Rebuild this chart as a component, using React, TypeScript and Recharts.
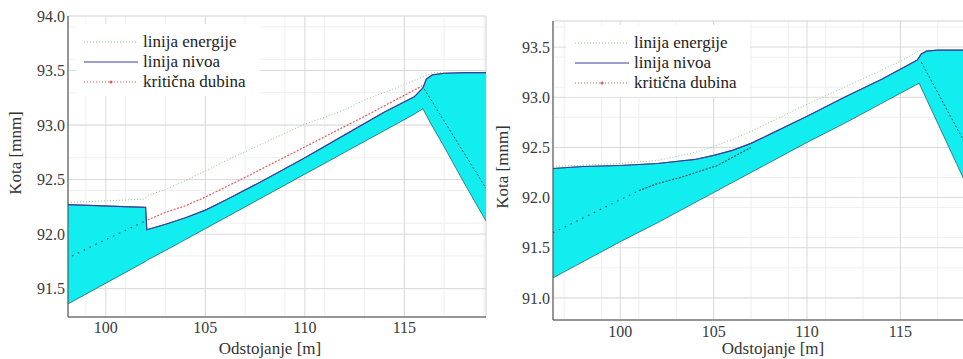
import { Area, CartesianGrid, ComposedChart, Label, Legend, Line, XAxis, YAxis } from "recharts";

// ---- left panel ----
const leftStationX = [98.1, 102.0, 102.06, 103, 104, 105, 106, 108, 110, 112, 114, 115.5, 115.93, 116.1, 116.4, 117, 118, 119.1];
const leftBedZ = [91.36, 91.75, 91.76, 91.85, 91.95, 92.05, 92.15, 92.35, 92.55, 92.75, 92.95, 93.1, 93.15, 93.09, 92.99, 92.8, 92.47, 92.12];
const leftWaterZ = [92.27, 92.245, 92.04, 92.09, 92.15, 92.22, 92.31, 92.5, 92.7, 92.91, 93.12, 93.26, 93.34, 93.42, 93.46, 93.475, 93.48, 93.48];
const leftEnergyX = [98.1, 101.9, 102.2, 103, 104, 105, 106, 108, 110, 111, 112, 113, 114, 115, 115.9, 116.4, 119.1];
const leftEnergyZ = [92.29, 92.32, 92.36, 92.41, 92.49, 92.58, 92.67, 92.84, 93.01, 93.07, 93.14, 93.23, 93.3, 93.37, 93.44, 93.48, 93.48];
const leftCriticalX = [102.1, 103, 104, 105, 107, 110, 113, 115.9];
const leftCriticalZ = [92.13, 92.2, 92.26, 92.34, 92.52, 92.8, 93.08, 93.36];
const leftUpstreamX = [98.3, 100, 102.1];
const leftUpstreamZ = [91.8, 91.95, 92.13];
const leftRampX = [116.0, 119.1];
const leftRampZ = [93.33, 92.42];
const leftXTicks = [100, 105, 110, 115];
const leftYTicks = [91.5, 92.0, 92.5, 93.0, 93.5, 94.0];
const leftMinorX = [99, 100, 101, 102, 103, 104, 105, 106, 107, 108, 109, 110, 111, 112, 113, 114, 115, 116, 117, 118, 119];
const leftMinorY = [91.3, 91.4, 91.5, 91.6, 91.7, 91.8, 91.9, 92.0, 92.1, 92.2, 92.3, 92.4, 92.5, 92.6, 92.7, 92.8, 92.9, 93.0, 93.1, 93.2, 93.3, 93.4, 93.5, 93.6, 93.7, 93.8, 93.9];

// ---- right panel ----
const rightStationX = [96.4, 98, 100, 102, 104, 105, 106, 107, 108, 110, 112, 114, 115.9, 116.01, 116.1, 116.4, 117, 118, 119.1];
const rightBedZ = [91.2, 91.36, 91.56, 91.75, 91.95, 92.05, 92.15, 92.25, 92.35, 92.55, 92.74, 92.94, 93.13, 93.14, 93.1, 92.98, 92.74, 92.34, 91.9];
const rightWaterZ = [92.29, 92.31, 92.32, 92.34, 92.38, 92.42, 92.47, 92.54, 92.63, 92.81, 93.0, 93.18, 93.37, 93.4, 93.43, 93.46, 93.47, 93.47, 93.47];
const rightEnergyX = [96.4, 100, 102, 104, 105, 106, 107, 108, 110, 112, 114, 115, 116.07, 119.1];
const rightEnergyZ = [92.31, 92.34, 92.37, 92.45, 92.51, 92.58, 92.66, 92.75, 92.93, 93.1, 93.27, 93.36, 93.47, 93.47];
const rightCriticalX = [101.0, 102, 103.4, 105.2, 107.0];
const rightCriticalZ = [92.07, 92.14, 92.21, 92.32, 92.5];
const rightUpstreamX = [96.4, 101.0];
const rightUpstreamZ = [91.65, 92.07];
const rightRampX = [116.12, 119.1];
const rightRampZ = [93.35, 92.32];
const rightXTicks = [100, 105, 110, 115];
const rightYTicks = [91.0, 91.5, 92.0, 92.5, 93.0, 93.5];
const rightMinorX = [97, 98, 99, 100, 101, 102, 103, 104, 105, 106, 107, 108, 109, 110, 111, 112, 113, 114, 115, 116, 117, 118, 119];
const rightMinorY = [90.8, 90.9, 91.0, 91.1, 91.2, 91.3, 91.4, 91.5, 91.6, 91.7, 91.8, 91.9, 92.0, 92.1, 92.2, 92.3, 92.4, 92.5, 92.6, 92.7, 92.8, 92.9, 93.0, 93.1, 93.2, 93.3, 93.4, 93.5, 93.6, 93.7];

const legendNames = ["linija energije", "linija nivoa", "kritična dubina"];

const FONT = "'Liberation Serif', serif";
const CYAN = "#12eef0";
const GREEN = "#8cc98c";
const BLUE = "#3a3f9e";
const RED = "#e05a5a";
const DARK = "#2c5058";

const pts = (xs: number[], zs: number[]) => xs.map((x, i) => ({ x, z: zs[i] }));
const band = (xs: number[], lo: number[], hi: number[]) => xs.map((x, i) => ({ x, range: [lo[i], hi[i]] }));

function LegendBox({ padLeft }: { padLeft: number }) {
  const styles = [
    { color: GREEN, dash: "1 2", marker: false },
    { color: BLUE, dash: undefined, marker: false },
    { color: RED, dash: "1 2", marker: true },
  ];
  return (
    <div style={{ background: "#fff", padding: `8px 6px 4px ${padLeft}px`, fontFamily: FONT, fontSize: 17, color: "#222" }}>
      {legendNames.map((name, i) => (
        <div key={name} style={{ display: "flex", alignItems: "center", height: 20 }}>
          <svg width={54} height={10}>
            <line x1={0} y1={5} x2={54} y2={5} stroke={styles[i].color} strokeWidth={1} strokeDasharray={styles[i].dash} />
            {styles[i].marker && <circle cx={27} cy={5} r={1.6} fill={RED} />}
          </svg>
          <span style={{ marginLeft: 5 }}>{name}</span>
        </div>
      ))}
    </div>
  );
}

type PanelProps = {
  width: number;
  top: number;
  plotHeight: number;
  yAxisWidth: number;
  xDomain: [number, number];
  yDomain: [number, number];
  xTicks: number[];
  yTicks: number[];
  minorX: number[];
  minorY: number[];
  stationX: number[];
  bedZ: number[];
  waterZ: number[];
  energyX: number[];
  energyZ: number[];
  criticalX: number[];
  criticalZ: number[];
  criticalColor: string;
  upstreamX: number[];
  upstreamZ: number[];
  rampX: number[];
  rampZ: number[];
  legendLeft: number;
  legendTop: number;
  legendPad: number;
  xLabelDx: number;
  xLabelDy: number;
  yLabelX: number;
  yLabelY: number;
  tickMargin: number;
};

function Panel(p: PanelProps) {
  const tick = { fill: "#3a3a3a", fontSize: 16, fontFamily: FONT };
  return (
    <ComposedChart width={p.width} height={359} margin={{ top: p.top, right: 4, bottom: 0, left: 0 }} style={{ fontFamily: FONT }}>
      <CartesianGrid xAxisId="minor" yAxisId="minor" stroke="#efefef" strokeWidth={1} />
      <CartesianGrid stroke="#d9d9d9" strokeWidth={1} />
      <XAxis
        dataKey="x"
        type="number"
        domain={p.xDomain}
        ticks={p.xTicks}
        allowDataOverflow
        height={359 - p.top - p.plotHeight}
        tickLine={false}
        tickSize={0}
        tickMargin={p.tickMargin}
        axisLine={{ stroke: "#444" }}
        tick={tick}
      >
        <Label
          content={(lp: any) => (
            <text x={lp.viewBox.x + lp.viewBox.width / 2 + p.xLabelDx} y={lp.viewBox.y + p.xLabelDy} textAnchor="middle" fontSize={17} fill="#333" fontFamily={FONT}>
              Odstojanje [m]
            </text>
          )}
        />
      </XAxis>
      <XAxis xAxisId="minor" dataKey="x" type="number" domain={p.xDomain} ticks={p.minorX} allowDataOverflow hide />
      <XAxis xAxisId="top" orientation="top" dataKey="x" type="number" domain={p.xDomain} ticks={[]} height={0} tick={false} tickLine={false} axisLine={{ stroke: "#a0a0a0" }} />
      <YAxis
        type="number"
        domain={p.yDomain}
        ticks={p.yTicks}
        allowDataOverflow
        width={p.yAxisWidth}
        tickLine={false}
        tickSize={0}
        tickMargin={3}
        axisLine={{ stroke: "#444" }}
        tick={tick}
        tickFormatter={(v: number) => v.toFixed(1)}
      >
        <Label
          content={() => (
            <text
              x={p.yLabelX}
              y={p.yLabelY}
              textAnchor="middle"
              dominantBaseline="central"
              transform={`rotate(-90, ${p.yLabelX}, ${p.yLabelY})`}
              fontSize={17}
              fill="#333"
              fontFamily={FONT}
            >
              Kota [mnm]
            </text>
          )}
        />
      </YAxis>
      <YAxis yAxisId="minor" type="number" domain={p.yDomain} ticks={p.minorY} allowDataOverflow hide />
      <YAxis yAxisId="right" orientation="right" type="number" domain={p.yDomain} ticks={[]} width={0} tick={false} tickLine={false} axisLine={{ stroke: "#a0a0a0" }} />

      <Area
        data={band(p.stationX, p.bedZ, p.waterZ)}
        dataKey="range"
        type="linear"
        fill={CYAN}
        fillOpacity={1}
        stroke="#1d6670"
        strokeWidth={0.8}
        isAnimationActive={false}
        legendType="none"
      />
      <Line data={pts(p.upstreamX, p.upstreamZ)} dataKey="z" type="linear" stroke={DARK} strokeWidth={1.2} strokeDasharray="1.5 5" dot={false} isAnimationActive={false} legendType="none" />
      <Line data={pts(p.rampX, p.rampZ)} dataKey="z" type="linear" stroke={DARK} strokeWidth={1} strokeDasharray="2 2" dot={false} isAnimationActive={false} legendType="none" />
      <Line data={pts(p.energyX, p.energyZ)} dataKey="z" type="linear" stroke={GREEN} strokeWidth={1} strokeDasharray="1 2" dot={false} isAnimationActive={false} />
      <Line data={pts(p.criticalX, p.criticalZ)} dataKey="z" type="linear" stroke={p.criticalColor} strokeWidth={1.2} strokeDasharray="2 1.5" dot={false} isAnimationActive={false} />
      <Line data={pts(p.stationX, p.waterZ)} dataKey="z" type="linear" stroke={BLUE} strokeWidth={1.2} dot={false} isAnimationActive={false} />
      <Legend
        layout="vertical"
        align="center"
        verticalAlign="middle"
        content={() => <LegendBox padLeft={p.legendPad} />}
        wrapperStyle={{ left: p.legendLeft, top: p.legendTop, width: 184 }}
      />
    </ComposedChart>
  );
}

export default function App() {
  return (
    <div style={{ position: "absolute", left: 0, top: 0, width: 963, height: 359, overflow: "hidden", background: "#fff" }}>
      <div style={{ position: "absolute", left: 0, top: 0 }}>
        <Panel
          width={490}
          top={16}
          plotHeight={301}
          yAxisWidth={68}
          xDomain={[98.1, 119.1]}
          yDomain={[91.24, 94.0]}
          xTicks={leftXTicks}
          yTicks={leftYTicks}
          minorX={leftMinorX}
          minorY={leftMinorY}
          stationX={leftStationX}
          bedZ={leftBedZ}
          waterZ={leftWaterZ}
          energyX={leftEnergyX}
          energyZ={leftEnergyZ}
          criticalX={leftCriticalX}
          criticalZ={leftCriticalZ}
          criticalColor={RED}
          upstreamX={leftUpstreamX}
          upstreamZ={leftUpstreamZ}
          rampX={leftRampX}
          rampZ={leftRampZ}
          legendLeft={76}
          legendTop={24}
          legendPad={8}
          xLabelDx={-7}
          xLabelDy={37}
          yLabelX={15}
          yLabelY={153}
          tickMargin={5}
        />
      </div>
      <div style={{ position: "absolute", left: 490, top: 0 }}>
        <Panel
          width={491}
          top={21}
          plotHeight={299}
          yAxisWidth={63}
          xDomain={[96.4, 119.1]}
          yDomain={[90.78, 93.76]}
          xTicks={rightXTicks}
          yTicks={rightYTicks}
          minorX={rightMinorX}
          minorY={rightMinorY}
          stationX={rightStationX}
          bedZ={rightBedZ}
          waterZ={rightWaterZ}
          energyX={rightEnergyX}
          energyZ={rightEnergyZ}
          criticalX={rightCriticalX}
          criticalZ={rightCriticalZ}
          criticalColor={DARK}
          upstreamX={rightUpstreamX}
          upstreamZ={rightUpstreamZ}
          rampX={rightRampX}
          rampZ={rightRampZ}
          legendLeft={76}
          legendTop={25}
          legendPad={9}
          xLabelDx={8}
          xLabelDy={34}
          yLabelX={12}
          yLabelY={167}
          tickMargin={6}
        />
      </div>
    </div>
  );
}
